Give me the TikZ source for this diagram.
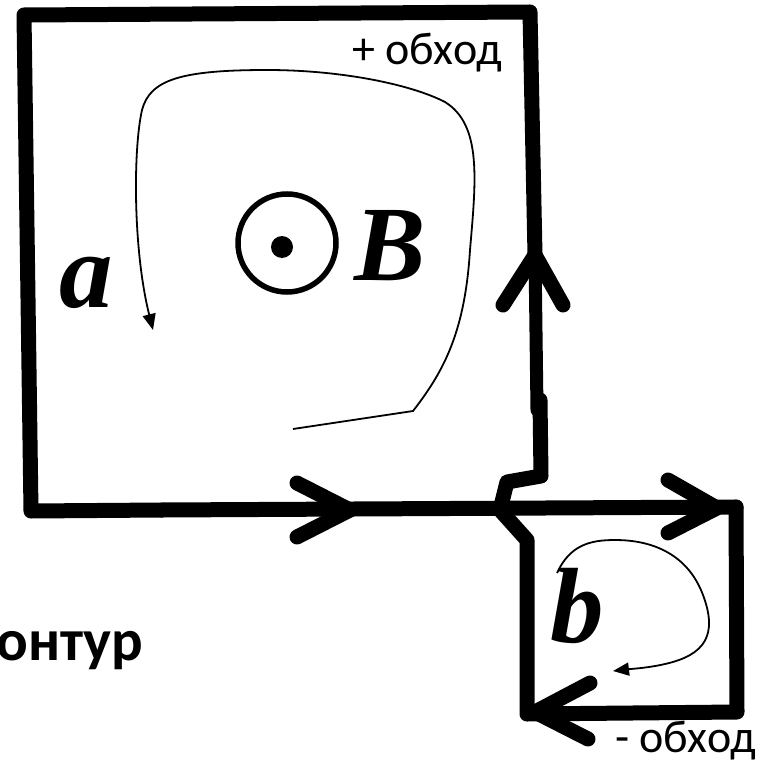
\documentclass[tikz,border=0pt]{standalone}
\usepackage{fontspec}
\setmainfont{Carlito}
\newfontfamily\letterfont{Liberation Serif}
\usetikzlibrary{arrows.meta}
\tikzset{
  wire/.style={line width=15pt, line cap=round, line join=round},
  wirethin/.style={line width=13pt, line cap=round, line join=round},
  pathline/.style={line width=1.8pt, -{Triangle[length=16pt,width=13pt]}},
  lettr/.style={font=\letterfont\bfseries\itshape\fontsize{107}{110}\selectfont, inner sep=0pt, anchor=base},
  lab/.style={font=\fontsize{46}{50}\selectfont, inner sep=0pt},
  boldlab/.style={font=\bfseries\fontsize{59}{64}\selectfont, inner sep=0pt}
}
\begin{document}
\begin{tikzpicture}[x=1pt,y=-1pt]
\useasboundingbox (0,0) rectangle (765,762);
\clip (0,0) rectangle (765,762);
% corner coordinates
\coordinate (TL) at (24,15);
\coordinate (TR) at (530,12);
\coordinate (BL) at (31,511);
\coordinate (BM) at (162,510);
\coordinate (R1) at (535,255);
\coordinate (R2) at (537,410);
\coordinate (R3) at (540,400);
\coordinate (R4) at (541,476);
\coordinate (J1) at (507,482);
\coordinate (J2) at (500,510);
\coordinate (S1) at (527,540);
\coordinate (SBL) at (527,714);
\coordinate (SBR) at (737,712);
\coordinate (STR) at (736,507);
% big contour
\draw[wire] (R1) -- (TR) -- (TL) -- (BL) -- (BM);
\draw[wire] (BM) -- (STR);
\draw[wirethin] (R1) -- (R2);
\draw[wire] (R3) -- (R4) -- (J1) -- (J2) -- (S1) -- (SBL) -- (SBR) -- (STR);
% arrowheads
\coordinate (A1a) at (297,483); \coordinate (A1t) at (350,510); \coordinate (A1b) at (297,537);
\draw[wire] (A1a) -- (A1t) -- (A1b);
\coordinate (A2a) at (503,305); \coordinate (A2t) at (535,255); \coordinate (A2b) at (563,305);
\draw[wire] (A2a) -- (A2t) -- (A2b);
\coordinate (A3a) at (668,480); \coordinate (A3t) at (717,508); \coordinate (A3b) at (668,533);
\draw[wire] (A3a) -- (A3t) -- (A3b);
\coordinate (A4a) at (590,683); \coordinate (A4t) at (535,712); \coordinate (A4b) at (588,739);
\draw[wire] (A4a) -- (A4t) -- (A4b);
% circulation path a
\coordinate (C0) at (293,429);
\coordinate (C1) at (413,411);
\coordinate (C2) at (470,250);
\coordinate (C3) at (445,102);
\coordinate (C4) at (267,70);
\coordinate (C5) at (142,110);
\coordinate (C6) at (153,330);
\draw[pathline] (C0) -- (C1) .. controls (445,370) and (465,330) .. (C2)
  .. controls (476,180) and (482,125) .. (C3)
  .. controls (410,84) and (340,70) .. (C4)
  .. controls (180,70) and (150,80) .. (C5)
  .. controls (133,150) and (133,250) .. (C6);
% circulation path b
\coordinate (D0) at (557,573);
\coordinate (D1) at (615,540);
\coordinate (D2) at (703,595);
\coordinate (D3) at (665,664);
\coordinate (D4) at (613,671);
\draw[pathline] (D0) .. controls (570,545) and (590,540) .. (D1)
  .. controls (660,540) and (690,560) .. (D2)
  .. controls (718,635) and (705,655) .. (D3)
  .. controls (648,668) and (630,669) .. (D4);
% B field symbol
\node[circle, draw, line width=5.5pt, minimum size=98pt, inner sep=0pt] (Bcirc) at (287,243) {};
\node[circle, fill, minimum size=22pt, inner sep=0pt] (Bdot) at (282,247) {};
% letters
\node[lettr] (la) at (86,307) {a};
\node[lettr] (lB) at (390,280) {B};
\node[lettr] (lb) at (577,642) {b};
% labels
\node[lab, anchor=base east] (plus) at (502,65) {+ обход};
\node[lab, anchor=base east] (minus) at (756,752) {- обход};
\node[boldlab, anchor=base east] (kontur) at (143,660) {контур};
\end{tikzpicture}
\end{document}
